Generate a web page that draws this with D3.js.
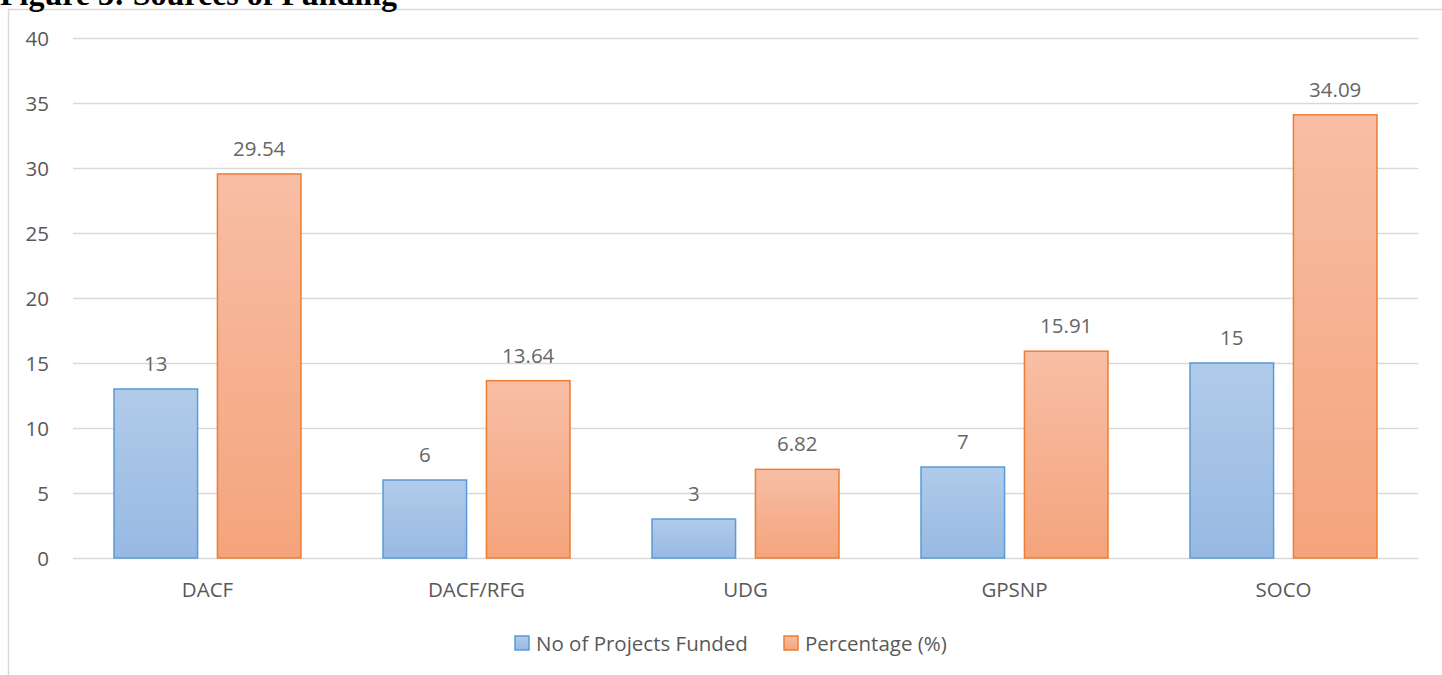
<!DOCTYPE html>
<html><head><meta charset="utf-8">
<script src="https://cdn.jsdelivr.net/npm/d3@7"></script>
<style>
html,body{margin:0;padding:0;background:#fff;}
svg{display:block;}
</style></head>
<body>
<svg id="c" width="1442" height="675"></svg>
<script>
const categories = ["DACF","DACF/RFG","UDG","GPSNP","SOCO"];
const projectsFunded = [13,6,3,7,15];
const percentage = [29.54,13.64,6.82,15.91,34.09];
const yTicks = [0,5,10,15,20,25,30,35,40];
const seriesNames = ["No of Projects Funded","Percentage (%)"];
const title = "Figure 3: Sources of Funding";

const svg = d3.select("#c");
const font = "'Open Sans', 'Noto Sans', sans-serif";
const fs = 20.5;
const defs = svg.append("defs");
function grad(id, top, bot){
  const g = defs.append("linearGradient").attr("id",id).attr("x1",0).attr("y1",0).attr("x2",0).attr("y2",1);
  g.append("stop").attr("offset","0%").attr("stop-color",top);
  g.append("stop").attr("offset","100%").attr("stop-color",bot);
}
grad("gBlue","#b1cbea","#97b9e2");
grad("gOrange","#f8bea5","#f4a47c");
const fills = ["url(#gBlue)","url(#gOrange)"];
const strokes = ["#5b9bd5","#ed7d31"];

// chart border
svg.append("path").attr("d","M8.5,675 V9.5 H1442").attr("fill","none").attr("stroke","#d9d9d9").attr("stroke-width",1.5);

const x0 = d3.scaleBand().domain(categories).range([73,1418]);
const x1 = d3.scaleBand().domain([0,1]).range([41, x0.bandwidth()-41]).paddingInner(0.192);
const y = d3.scaleLinear().domain([0,40]).range([558,38]);

// grid
svg.append("g").selectAll("line").data(yTicks).join("line")
  .attr("x1",73).attr("x2",1418).attr("y1",d=>Math.round(y(d))+0.5).attr("y2",d=>Math.round(y(d))+0.5)
  .attr("stroke","#d9d9d9").attr("stroke-width",1.5);

// y axis labels
const yAxis = d3.axisLeft(y).tickValues(yTicks).tickSize(0).tickPadding(0);
const ya = svg.append("g").attr("transform","translate(49,0)").call(yAxis);
ya.select(".domain").remove();
ya.selectAll("text").attr("font-family",font).attr("font-size",fs).attr("fill","#595959").attr("dy","0.36em");

// x axis labels
const xAxis = d3.axisBottom(x0).tickSize(0).tickPadding(0);
const xa = svg.append("g").attr("transform","translate(0,597)").call(xAxis);
xa.select(".domain").remove();
xa.selectAll("text").attr("font-family",font).attr("font-size",fs).attr("fill","#595959").attr("dy",0);

// bars
const series = [projectsFunded, percentage];
const groups = svg.append("g").selectAll("g").data(categories).join("g")
  .attr("transform",d=>`translate(${x0(d)},0)`);
groups.each(function(cat,i){
  const g = d3.select(this);
  [0,1].forEach(s=>{
    const v = series[s][i];
    g.append("rect").attr("x",x1(s)).attr("y",y(v)).attr("width",x1.bandwidth()).attr("height",y(0)-y(v))
      .attr("fill",fills[s]).attr("stroke",strokes[s]).attr("stroke-width",1.5);
    g.append("text").attr("x",x1(s)+x1.bandwidth()/2).attr("y",y(v)-18)
      .attr("text-anchor","middle").attr("font-family",font).attr("font-size",fs).attr("fill","#666")
      .text(v);
  });
});

// legend
const leg = svg.append("g");
const legItems = [{x:515},{x:784}];
legItems.forEach((it,s)=>{
  leg.append("rect").attr("x",it.x).attr("y",636).attr("width",14).attr("height",14)
    .attr("fill",fills[s]).attr("stroke",strokes[s]).attr("stroke-width",1.5);
  leg.append("text").attr("x",it.x+21).attr("y",651).attr("font-family",font).attr("font-size",fs)
    .attr("fill","#595959").text(seriesNames[s]);
});

// title
svg.append("text").attr("x",0).attr("y",5).attr("font-family","'Liberation Serif', serif")
  .attr("font-weight","bold").attr("font-size",32).attr("fill","#000").text(title);
</script>
</body></html>
